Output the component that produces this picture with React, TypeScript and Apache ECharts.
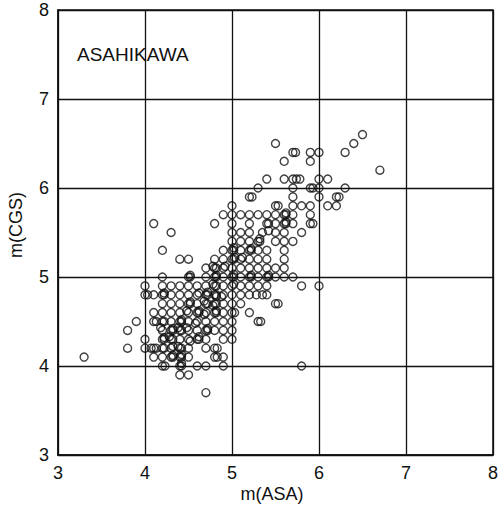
import React, { useEffect, useRef } from "react";
import * as echarts from "echarts";

// Tick labels
const xTicks = [3, 4, 5, 6, 7, 8];
const yTicks = [3, 4, 5, 6, 7, 8];

// m(CGS) levels and the m(ASA) values of the events at each level
const cgsLevels = [
  6.6, 6.5, 6.4, 6.3, 6.2, 6.1, 6.0, 5.9, 5.8, 5.7, 5.6, 5.5, 5.4, 5.3,
  5.2, 5.1, 5.0, 4.9, 4.8, 4.7, 4.6, 4.5, 4.4, 4.3, 4.2, 4.1, 4.0, 3.9, 3.7,
];
const asaByLevel: number[][] = [
  [6.5],
  [5.5, 6.4],
  [5.7, 5.73, 5.9, 6.0, 6.3],
  [5.6, 5.9],
  [6.7],
  [5.4, 5.6, 5.7, 5.74, 5.78, 6.0, 6.1],
  [5.3, 5.7, 5.9, 5.93, 6.0, 6.3],
  [5.2, 5.23, 5.7, 6.0, 6.2, 6.23],
  [5.0, 5.5, 5.53, 5.7, 5.8, 5.9, 6.1, 6.2],
  [4.9, 5.0, 5.1, 5.2, 5.3, 5.4, 5.5, 5.6, 5.62, 5.7, 5.9],
  [4.1, 4.8, 5.0, 5.2, 5.4, 5.42, 5.5, 5.6, 5.62, 5.7, 5.9, 5.93],
  [4.3, 5.0, 5.1, 5.2, 5.35, 5.5, 5.6, 5.8],
  [5.0, 5.1, 5.2, 5.3, 5.32, 5.5, 5.6, 5.7],
  [4.2, 4.9, 5.0, 5.02, 5.1, 5.2, 5.22, 5.3, 5.4, 5.6],
  [4.4, 4.5, 4.8, 4.9, 5.0, 5.02, 5.1, 5.2, 5.3, 5.4, 5.6],
  [4.7, 4.8, 4.82, 4.9, 5.0, 5.1, 5.2, 5.3, 5.4, 5.5, 5.6],
  [4.2, 4.5, 4.52, 4.7, 4.8, 4.82, 4.9, 5.0, 5.02, 5.1, 5.2, 5.22, 5.3, 5.4, 5.42, 5.5, 5.6, 5.7],
  [4.0, 4.2, 4.3, 4.4, 4.5, 4.6, 4.7, 4.8, 4.82, 4.9, 5.0, 5.1, 5.2, 5.3, 5.4, 5.8, 6.0],
  [4.0, 4.03, 4.1, 4.2, 4.22, 4.3, 4.4, 4.5, 4.6, 4.7, 4.72, 4.8, 4.82, 4.9, 5.0, 5.1, 5.2, 5.28, 5.35, 5.4],
  [4.2, 4.3, 4.4, 4.5, 4.52, 4.6, 4.7, 4.72, 4.8, 4.82, 4.9, 5.0, 5.1, 5.5, 5.53],
  [4.1, 4.2, 4.3, 4.4, 4.5, 4.6, 4.62, 4.7, 4.8, 4.82, 4.9, 5.0, 5.03, 5.2],
  [3.9, 4.1, 4.13, 4.2, 4.22, 4.3, 4.4, 4.42, 4.5, 4.6, 4.7, 4.8, 4.9, 5.0, 5.3, 5.33],
  [3.8, 4.2, 4.3, 4.32, 4.4, 4.42, 4.5, 4.6, 4.7, 4.72, 4.8, 4.9, 5.0],
  [4.0, 4.2, 4.22, 4.3, 4.32, 4.4, 4.5, 4.6, 4.62, 4.7, 4.9, 5.0],
  [3.8, 4.0, 4.07, 4.1, 4.13, 4.2, 4.22, 4.3, 4.4, 4.42, 4.5, 4.7, 4.8, 4.83],
  [3.3, 4.1, 4.2, 4.3, 4.32, 4.4, 4.42, 4.5, 4.8, 4.83, 4.9],
  [4.2, 4.23, 4.4, 4.42, 4.6, 4.7, 4.9, 5.8],
  [4.4, 4.5],
  [4.7],
];

// Events stacked on top of others (the dark, heavily overprinted circles), as [m(ASA), m(CGS)]
const stackedEvents: number[][] = [
  [4.22, 4.82], [4.32, 4.42], [4.28, 4.33], [4.22, 4.32], [4.42, 4.52],
  [4.38, 4.43], [4.42, 4.13], [4.38, 4.22], [4.32, 4.12], [4.42, 4.03],
  [4.62, 4.33], [4.72, 4.42], [4.52, 4.72], [4.68, 4.73], [4.72, 4.83],
  [4.82, 4.78], [4.78, 4.68], [4.82, 4.62], [4.62, 4.62], [4.78, 4.92],
  [4.82, 5.02], [4.78, 5.12], [5.02, 4.92], [5.02, 5.03], [5.03, 5.22],
  [5.02, 5.33], [5.22, 5.32], [5.22, 5.02], [5.42, 5.02], [5.32, 5.43],
  [5.42, 5.52], [5.62, 5.72], [5.62, 5.62], [4.52, 5.02], [4.48, 4.43],
  [4.58, 4.48], [4.48, 4.62], [4.32, 4.22], [4.52, 4.28], [4.68, 4.58],
  [4.88, 4.78], [4.92, 5.12], [5.12, 5.22], [4.18, 4.43], [4.62, 4.82],
];

const stationName = "ASAHIKAWA";
const xTitle = "m(ASA)";
const yTitle = "m(CGS)";

const FONT = "Liberation Sans, Arial, Helvetica, sans-serif";
const INK = "#111";

export default function App() {
  const ref = useRef<HTMLDivElement>(null);

  useEffect(() => {
    if (!ref.current) return;
    const chart = echarts.init(ref.current, null, { renderer: "svg" });
    const data: number[][] = [];
    cgsLevels.forEach((y, i) => {
      asaByLevel[i].forEach((x) => data.push([x, y]));
    });
    stackedEvents.forEach((p) => data.push([p[0], p[1]]));

    const axisCommon = {
      type: "value" as const,
      interval: 1,
      axisLine: { show: true, onZero: false, lineStyle: { color: INK, width: 1.5 } },
      axisTick: { show: false },
      splitLine: { show: true, lineStyle: { color: INK, width: 1.3 } },
      axisLabel: { margin: 9, fontSize: 18, color: INK, fontFamily: FONT },
    };

    chart.setOption({
      animation: false,
      backgroundColor: "#fff",
      grid: {
        left: 58,
        right: 3,
        top: 10,
        bottom: 53,
        show: true,
        borderColor: INK,
        borderWidth: 1.5,
      },
      xAxis: { ...axisCommon, min: xTicks[0], max: xTicks[xTicks.length - 1] },
      yAxis: { ...axisCommon, min: yTicks[0], max: yTicks[yTicks.length - 1] },
      series: [
        {
          type: "scatter",
          data,
          symbol: "circle",
          symbolSize: 8,
          silent: true,
          itemStyle: { color: "rgba(255,255,255,0)", borderColor: INK, borderWidth: 1.4 },
        },
      ],
      graphic: [
        {
          type: "text",
          left: 77,
          top: 45,
          style: { text: stationName, fontSize: 19, fill: INK, fontFamily: FONT },
        },
        {
          type: "text",
          x: 272,
          y: 494,
          style: {
            text: xTitle,
            fontSize: 18,
            fill: INK,
            fontFamily: FONT,
            textAlign: "center",
            textVerticalAlign: "middle",
          },
        },
        {
          type: "text",
          x: 16,
          y: 225,
          rotation: Math.PI / 2,
          style: {
            text: yTitle,
            fontSize: 18,
            fill: INK,
            fontFamily: FONT,
            textAlign: "center",
            textVerticalAlign: "middle",
          },
        },
      ],
    });
    return () => chart.dispose();
  }, []);

  return (
    <div
      ref={ref}
      style={{ position: "absolute", left: 0, top: 0, width: 501, height: 508, background: "#fff" }}
    />
  );
}
